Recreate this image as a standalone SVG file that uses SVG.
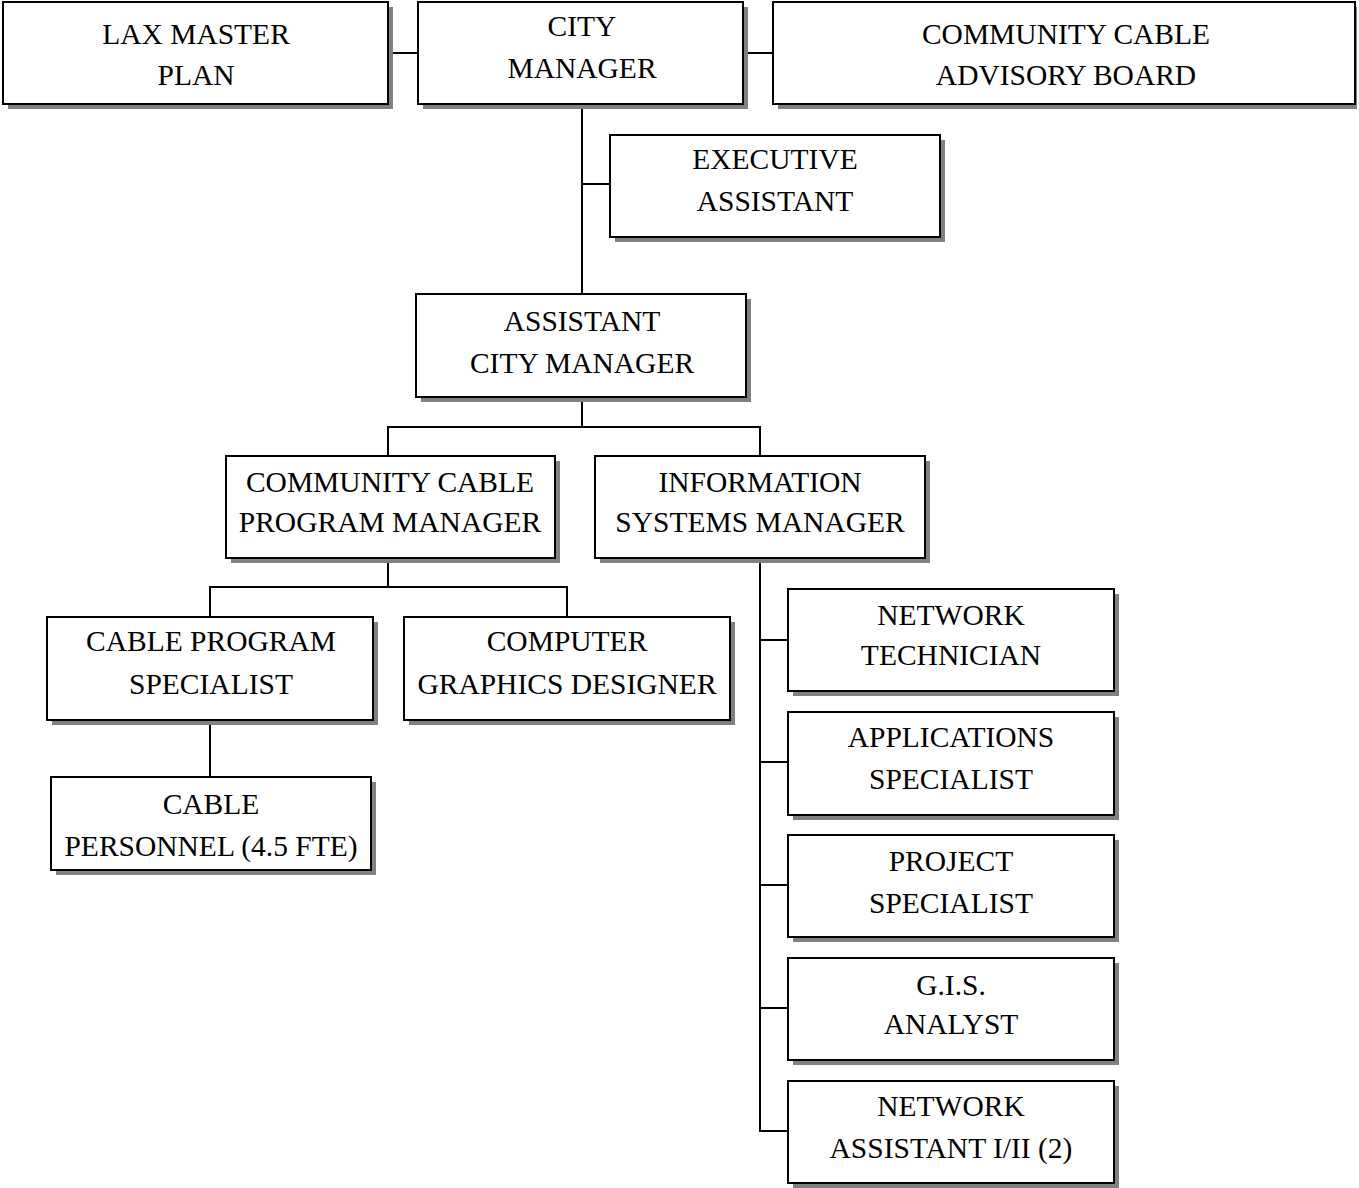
<svg xmlns="http://www.w3.org/2000/svg" width="1359" height="1188" viewBox="0 0 1359 1188">
<defs>
<style>
.sh{fill:#808080;stroke:none}
.bx{fill:#fff;stroke:#000;stroke-width:2}
.tx{font-family:"Liberation Serif","Times New Roman",serif;font-size:29.5px;fill:#000;text-anchor:middle}
.ln{stroke:#000;stroke-width:2;fill:none}
</style>
</defs>
<rect width="1359" height="1188" fill="#fff"/>
<g id="connectors">
<line class="ln" x1="388" y1="53" x2="418" y2="53"/>
<line class="ln" x1="743" y1="53" x2="773" y2="53"/>
<line class="ln" x1="582" y1="104" x2="582" y2="294"/>
<line class="ln" x1="582" y1="184" x2="610" y2="184"/>
<line class="ln" x1="582" y1="397" x2="582" y2="427"/>
<line class="ln" x1="388" y1="427" x2="760" y2="427"/>
<line class="ln" x1="388" y1="426" x2="388" y2="456"/>
<line class="ln" x1="760" y1="426" x2="760" y2="456"/>
<line class="ln" x1="388" y1="558" x2="388" y2="587"/>
<line class="ln" x1="210" y1="587" x2="567" y2="587"/>
<line class="ln" x1="210" y1="586" x2="210" y2="617"/>
<line class="ln" x1="567" y1="586" x2="567" y2="617"/>
<line class="ln" x1="210" y1="720" x2="210" y2="777"/>
<line class="ln" x1="760" y1="558" x2="760" y2="1132"/>
<line class="ln" x1="759" y1="640" x2="788" y2="640"/>
<line class="ln" x1="759" y1="762" x2="788" y2="762"/>
<line class="ln" x1="759" y1="885" x2="788" y2="885"/>
<line class="ln" x1="759" y1="1008" x2="788" y2="1008"/>
<line class="ln" x1="759" y1="1131" x2="788" y2="1131"/>
</g>
<g id="lax">
<rect class="sh" x="8" y="7" width="385" height="102"/>
<rect class="bx" x="3" y="2" width="385" height="102"/>
<text class="tx" x="196" y="44">LAX MASTER</text>
<text class="tx" x="196" y="85">PLAN</text>
</g>
<g id="city-manager">
<rect class="sh" x="423" y="7" width="325" height="102"/>
<rect class="bx" x="418" y="2" width="325" height="102"/>
<text class="tx" x="582" y="36">CITY</text>
<text class="tx" x="582" y="78">MANAGER</text>
</g>
<g id="cable-board">
<rect class="sh" x="778" y="7" width="579" height="102"/>
<rect class="bx" x="773" y="2" width="582" height="102"/>
<text class="tx" x="1066" y="44">COMMUNITY CABLE</text>
<text class="tx" x="1066" y="85">ADVISORY BOARD</text>
</g>
<g id="exec-assistant">
<rect class="sh" x="615" y="140" width="330" height="102"/>
<rect class="bx" x="610" y="135" width="330" height="102"/>
<text class="tx" x="775" y="169">EXECUTIVE</text>
<text class="tx" x="775" y="211">ASSISTANT</text>
</g>
<g id="asst-city-manager">
<rect class="sh" x="421" y="299" width="330" height="103"/>
<rect class="bx" x="416" y="294" width="330" height="103"/>
<text class="tx" x="582" y="331">ASSISTANT</text>
<text class="tx" x="582" y="373">CITY MANAGER</text>
</g>
<g id="cable-program-manager">
<rect class="sh" x="231" y="461" width="329" height="102"/>
<rect class="bx" x="226" y="456" width="329" height="102"/>
<text class="tx" x="390" y="492">COMMUNITY CABLE</text>
<text class="tx" x="390" y="532">PROGRAM MANAGER</text>
</g>
<g id="is-manager">
<rect class="sh" x="600" y="461" width="330" height="102"/>
<rect class="bx" x="595" y="456" width="330" height="102"/>
<text class="tx" x="760" y="492">INFORMATION</text>
<text class="tx" x="760" y="532">SYSTEMS MANAGER</text>
</g>
<g id="cable-program-specialist">
<rect class="sh" x="52" y="622" width="326" height="103"/>
<rect class="bx" x="47" y="617" width="326" height="103"/>
<text class="tx" x="211" y="651">CABLE PROGRAM</text>
<text class="tx" x="211" y="694">SPECIALIST</text>
</g>
<g id="graphics-designer">
<rect class="sh" x="409" y="622" width="326" height="103"/>
<rect class="bx" x="404" y="617" width="326" height="103"/>
<text class="tx" x="567" y="651">COMPUTER</text>
<text class="tx" x="567" y="694">GRAPHICS DESIGNER</text>
</g>
<g id="cable-personnel">
<rect class="sh" x="56" y="782" width="320" height="93"/>
<rect class="bx" x="51" y="777" width="320" height="93"/>
<text class="tx" x="211" y="814">CABLE</text>
<text class="tx" x="211" y="856">PERSONNEL (4.5 FTE)</text>
</g>
<g id="network-technician">
<rect class="sh" x="793" y="594" width="326" height="102"/>
<rect class="bx" x="788" y="589" width="326" height="102"/>
<text class="tx" x="951" y="625">NETWORK</text>
<text class="tx" x="951" y="665">TECHNICIAN</text>
</g>
<g id="applications-specialist">
<rect class="sh" x="793" y="717" width="326" height="103"/>
<rect class="bx" x="788" y="712" width="326" height="103"/>
<text class="tx" x="951" y="747">APPLICATIONS</text>
<text class="tx" x="951" y="789">SPECIALIST</text>
</g>
<g id="project-specialist">
<rect class="sh" x="793" y="840" width="326" height="102"/>
<rect class="bx" x="788" y="835" width="326" height="102"/>
<text class="tx" x="951" y="871">PROJECT</text>
<text class="tx" x="951" y="913">SPECIALIST</text>
</g>
<g id="gis-analyst">
<rect class="sh" x="793" y="963" width="326" height="102"/>
<rect class="bx" x="788" y="958" width="326" height="102"/>
<text class="tx" x="951" y="995">G.I.S.</text>
<text class="tx" x="951" y="1034">ANALYST</text>
</g>
<g id="network-assistant">
<rect class="sh" x="793" y="1086" width="326" height="102"/>
<rect class="bx" x="788" y="1081" width="326" height="102"/>
<text class="tx" x="951" y="1116">NETWORK</text>
<text class="tx" x="951" y="1158">ASSISTANT I/II (2)</text>
</g>
</svg>
